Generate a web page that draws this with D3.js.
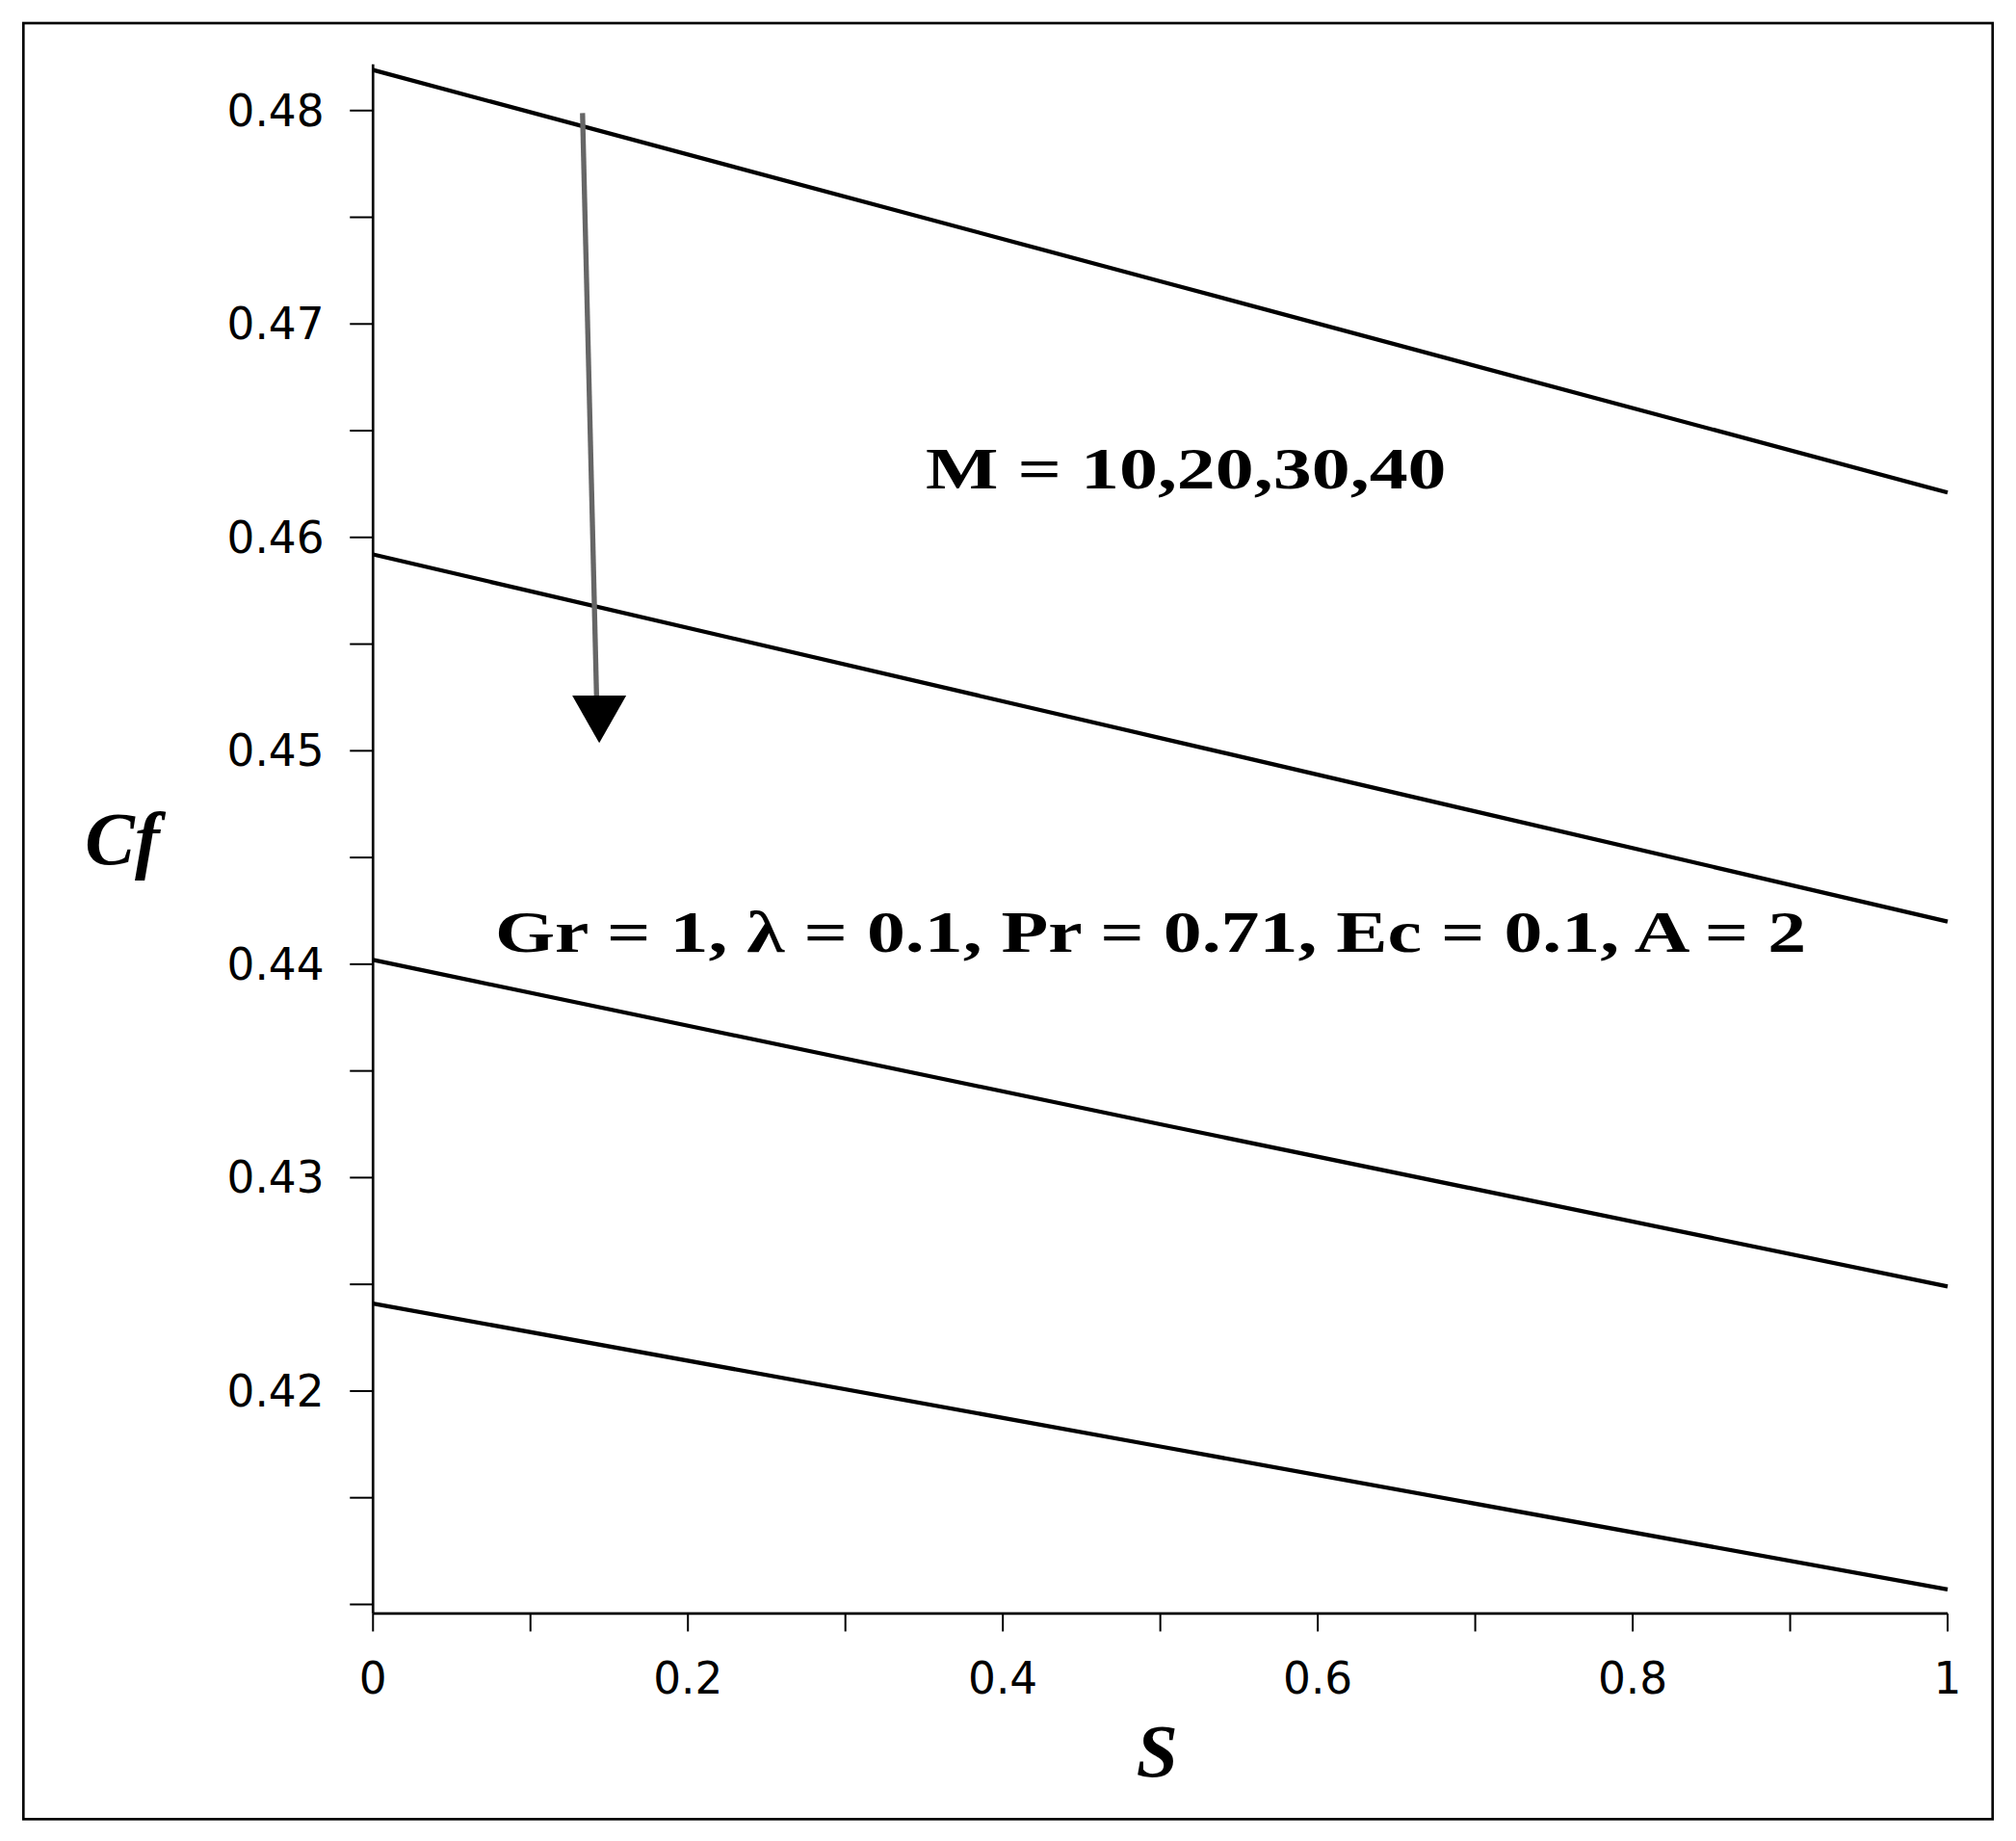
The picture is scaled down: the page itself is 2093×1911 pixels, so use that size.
<!DOCTYPE html>
<html><head><meta charset="utf-8">
<script src="https://cdn.jsdelivr.net/npm/d3@7"></script>
<style>body{margin:0;background:#fff}</style></head>
<body><script>
const sValues = [0, 0.5, 1];
const seriesM = ["10","20","30","40"];
const cfValues = [
  [0.4819, 0.4720, 0.4621],
  [0.4592, 0.4506, 0.4420],
  [0.4402, 0.4325, 0.4249],
  [0.4241, 0.4174, 0.4107]
];
const xTicks = [0,0.2,0.4,0.6,0.8,1];
const yTicks = [0.42,0.43,0.44,0.45,0.46,0.47,0.48];

const svg = d3.select("body").append("svg")
  .attr("width",2093).attr("height",1911).attr("viewBox","0 0 1568 1432");
svg.append("rect").attr("x",18).attr("y",18).attr("width",1532).attr("height",1397)
  .attr("fill","none").attr("stroke","#000").attr("stroke-width",2);

const x = d3.scaleLinear().domain([0,1]).range([290,1515]);
const y = d3.scaleLinear().domain([0.42,0.48]).range([1082,86]);
const yBottom = 1255, yTop = 50;

const g = svg.append("g");
g.append("line").attr("x1",290).attr("x2",290).attr("y1",yTop).attr("y2",yBottom).attr("stroke","#000").attr("stroke-width",2);
g.append("line").attr("x1",290).attr("x2",1515).attr("y1",yBottom).attr("y2",yBottom).attr("stroke","#000").attr("stroke-width",2);
d3.range(0,1.0001,0.1).forEach(v=>{
  g.append("line").attr("x1",x(v)).attr("x2",x(v)).attr("y1",yBottom).attr("y2",yBottom+14).attr("stroke","#000").attr("stroke-width",1.5);
});
xTicks.forEach(v=>{
  g.append("text").attr("x",x(v)).attr("y",yBottom+62).attr("text-anchor","middle")
   .attr("font-family","DejaVu Sans").attr("font-size",34).text(v===0?"0":v===1?"1":v.toFixed(1));
});
d3.range(0.41,0.4826,0.005).forEach(v=>{
  if (y(v)>yBottom||y(v)<yTop) return;
  g.append("line").attr("x1",290).attr("x2",272).attr("y1",y(v)).attr("y2",y(v)).attr("stroke","#000").attr("stroke-width",1.5);
});
yTicks.forEach(v=>{
  g.append("text").attr("x",252).attr("y",y(v)+12).attr("text-anchor","end")
   .attr("font-family","DejaVu Sans").attr("font-size",34).text(v.toFixed(2));
});
const line = d3.line().x((d,i)=>x(sValues[i])).y(d=>y(d));
cfValues.forEach((s,i)=>{
  g.append("path").datum(s).attr("d",line).attr("fill","none").attr("stroke","#000").attr("stroke-width",3.2)
   .attr("data-m",seriesM[i]);
});
g.append("line").attr("x1",453).attr("y1",88).attr("x2",464).attr("y2",545).attr("stroke","#666").attr("stroke-width",4);
g.append("path").attr("d","M445,541 L487,541 L466,578 Z").attr("fill","#000");
g.append("text").attr("x",720).attr("y",380).attr("font-family","Liberation Serif").attr("font-weight","bold")
 .attr("font-size",46).attr("textLength",405).attr("lengthAdjust","spacingAndGlyphs").text("M = 10,20,30,40");
g.append("text").attr("x",385).attr("y",740).attr("font-family","Liberation Serif").attr("font-weight","bold")
 .attr("font-size",46).attr("textLength",1020).attr("lengthAdjust","spacingAndGlyphs").text("Gr = 1, λ = 0.1, Pr = 0.71, Ec = 0.1, A = 2");
g.append("text").attr("x",95).attr("y",672).attr("text-anchor","middle").attr("font-family","Liberation Serif")
 .attr("font-weight","bold").attr("font-style","italic").attr("font-size",58).text("Cf");
g.append("text").attr("x",900).attr("y",1382).attr("text-anchor","middle").attr("font-family","Liberation Serif")
 .attr("font-weight","bold").attr("font-style","italic").attr("font-size",58).text("S");
</script></body></html>
